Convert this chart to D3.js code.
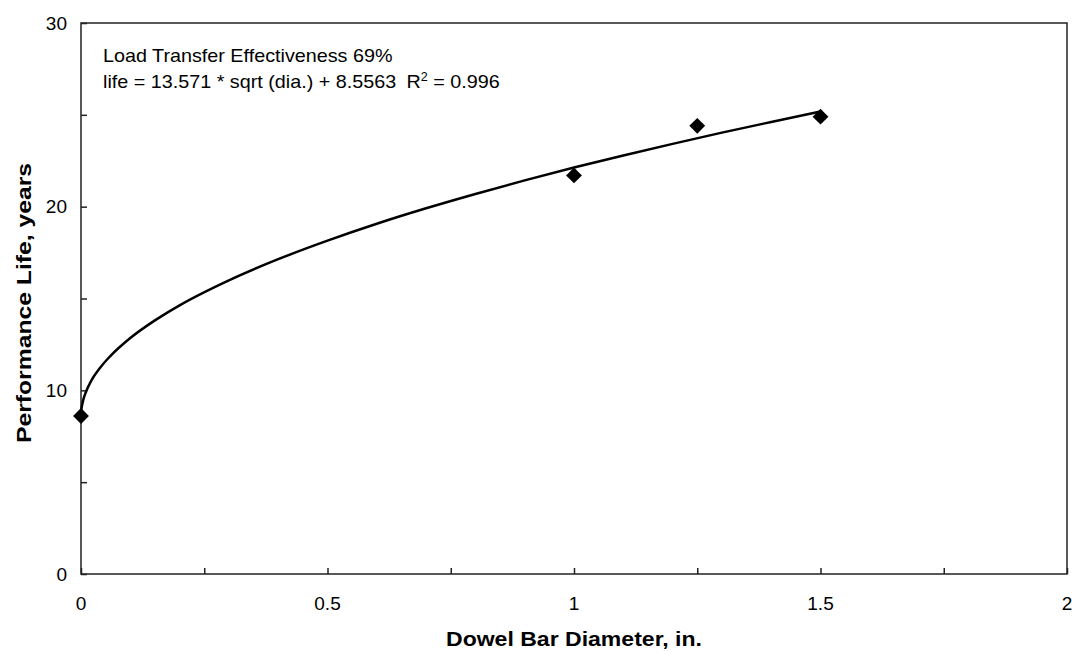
<!DOCTYPE html>
<html>
<head>
<meta charset="utf-8">
<script src="https://cdn.jsdelivr.net/npm/d3@7"></script>
<style>
  body { margin: 0; background: #fff; }
  text { font-family: "Liberation Sans", Arial, sans-serif; }
</style>
</head>
<body>
<div id="chart"></div>
<script>
const margin = { top: 23, right: 5, bottom: 78, left: 81 };
const width = 1072 - margin.left - margin.right;
const height = 652 - margin.top - margin.bottom;

// Observed points
const diameters = [0, 1, 1.25, 1.5];
const lifeYears = [8.6, 21.7, 24.4, 24.9];

// Fitted trend line
const fitX = [0, 0.001, 0.0025, 0.005, 0.01, 0.02, 0.04, 0.06, 0.1, 0.15, 0.2, 0.3, 0.4, 0.5, 0.6, 0.7, 0.8, 0.9, 1.0, 1.1, 1.2, 1.3, 1.4, 1.5];
const fitY = [8.56, 8.99, 9.23, 9.52, 9.91, 10.48, 11.27, 11.88, 12.85, 13.81, 14.63, 15.99, 17.14, 18.15, 19.07, 19.91, 20.69, 21.43, 22.13, 22.79, 23.42, 24.03, 24.61, 25.18];

const xTicks = [0, 0.25, 0.5, 0.75, 1, 1.25, 1.5, 1.75, 2];
const xLabels = [0, 0.5, 1, 1.5, 2];
const yTicks = [0, 5, 10, 15, 20, 25, 30];
const yLabels = [0, 10, 20, 30];

const xAxisName = "Dowel Bar Diameter, in.";
const yAxisName = "Performance Life, years";

var svg = d3.select("#chart")
    .append("svg")
    .attr("width", width + margin.left + margin.right)
    .attr("height", height + margin.top + margin.bottom)
    .append("g")
    .attr("transform", `translate(${margin.left}, ${margin.top})`);

var xScale = d3.scaleLinear().domain([0, 2]).range([0, width]);
var yScale = d3.scaleLinear().domain([0, 30]).range([height, 0]);

// Frame
svg.append("rect")
    .attr("width", width)
    .attr("height", height)
    .attr("fill", "none")
    .attr("stroke", "#222")
    .attr("stroke-width", 1.5);

// Inner ticks on x axis
svg.append("g")
    .attr("transform", `translate(0, ${height})`)
    .call(d3.axisBottom(xScale).tickValues(xTicks).tickSize(-6).tickFormat(""))
    .call(g => g.select(".domain").remove())
    .selectAll(".tick line").attr("stroke", "#222").attr("stroke-width", 1.5);

// Inner ticks on y axis
svg.append("g")
    .call(d3.axisLeft(yScale).tickValues(yTicks).tickSize(-6).tickFormat(""))
    .call(g => g.select(".domain").remove())
    .selectAll(".tick line").attr("stroke", "#222").attr("stroke-width", 1.5);

// Tick labels
svg.append("g")
    .selectAll("text")
    .data(xLabels)
    .join("text")
    .attr("x", d => xScale(d))
    .attr("y", height + 36)
    .attr("text-anchor", "middle")
    .style("font-size", "19px")
    .text(d => d);

svg.append("g")
    .selectAll("text")
    .data(yLabels)
    .join("text")
    .attr("x", -14)
    .attr("y", d => yScale(d))
    .attr("dy", "0.35em")
    .attr("text-anchor", "end")
    .style("font-size", "19px")
    .text(d => d);

// Axis titles
svg.append("text")
    .attr("x", 365)
    .attr("y", height + 72)
    .attr("textLength", 256)
    .attr("lengthAdjust", "spacingAndGlyphs")
    .style("font-size", "21px")
    .style("font-weight", "bold")
    .text(xAxisName);

svg.append("text")
    .attr("transform", "rotate(-90)")
    .attr("x", -(443 - margin.top))
    .attr("y", -50)
    .attr("textLength", 280)
    .attr("lengthAdjust", "spacingAndGlyphs")
    .style("font-size", "21px")
    .style("font-weight", "bold")
    .text(yAxisName);

// Annotation
var note = svg.append("g").attr("transform", "translate(22, 0) scale(1.04, 1)");
note.append("text")
    .attr("y", 39)
    .style("font-size", "19px")
    .text("Load Transfer Effectiveness 69%");
var eq = note.append("text")
    .attr("y", 65)
    .style("font-size", "19px");
eq.append("tspan").text("life = 13.571 * sqrt (dia.) + 8.5563");
eq.append("tspan").attr("dx", 10).text("R");
eq.append("tspan").attr("dy", -7).style("font-size", "12px").text("2");
eq.append("tspan").attr("dy", 7).text(" = 0.996");

// Trend line
var fitData = fitX.map((x, i) => ({ x: x, y: fitY[i] }));
var fitLine = d3.line()
    .x(d => xScale(d.x))
    .y(d => yScale(d.y))
    .curve(d3.curveMonotoneX);

svg.append("path")
    .datum(fitData)
    .attr("fill", "none")
    .attr("stroke", "#000")
    .attr("stroke-width", 2.5)
    .attr("d", fitLine);

// Data markers
var points = diameters.map((x, i) => ({ x: x, y: lifeYears[i] }));
svg.append("g")
    .selectAll("path")
    .data(points)
    .join("path")
    .attr("transform", d => `translate(${xScale(d.x)}, ${yScale(d.y)})`)
    .attr("d", d3.symbol(d3.symbolDiamond2, 160))
    .attr("fill", "#000");
</script>
</body>
</html>
